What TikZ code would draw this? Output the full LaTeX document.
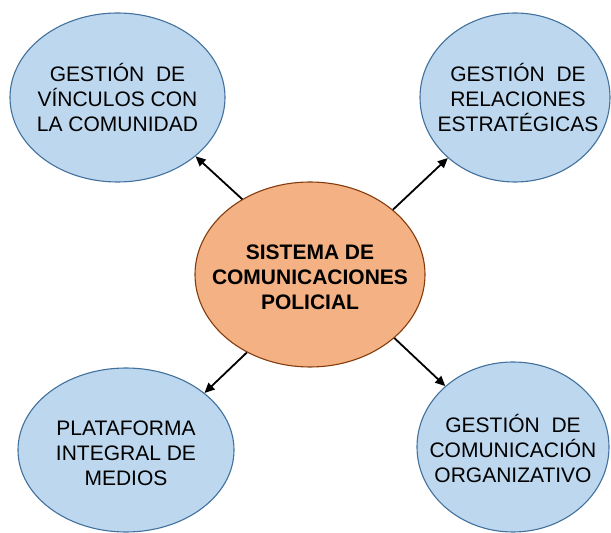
\documentclass[tikz,border=0pt]{standalone}
\usepackage{fontspec}
\setmainfont{Liberation Sans}
\usetikzlibrary{shapes.geometric,arrows.meta}
\definecolor{bluefill}{HTML}{BDD7EE}
\definecolor{blueline}{HTML}{41719C}
\definecolor{orangefill}{HTML}{F4B183}
\definecolor{orangeline}{HTML}{843C0C}
\tikzset{
  outer/.style={ellipse, draw=blueline, fill=bluefill, line width=1.1pt, inner sep=0pt},
  hub/.style={ellipse, draw=orangeline, fill=orangefill, line width=1.1pt, inner sep=0pt},
  outertext/.style={align=center, inner sep=0pt, font=\fontsize{21}{25}\selectfont, text=black},
  hubtext/.style={align=center, inner sep=0pt, font=\fontsize{21}{25}\selectfont\bfseries, text=black},
  link/.style={line width=1.8pt, draw=black, -{Triangle[length=10pt,width=9pt]}}
}
\begin{document}
\begin{tikzpicture}[x=1pt,y=1pt]
\useasboundingbox (0,0) rectangle (611,533);
\node[hub, minimum width=230pt, minimum height=185pt] (c) at (310,258.5) {};
\node[hubtext, yshift=-2.5pt] (ct) at (c.center) {SISTEMA DE\\COMUNICACIONES\\POLICIAL};
\node[outer, minimum width=215pt, minimum height=169pt] (tl) at (117.5,435.5) {};
\node[outertext] (tlt) at (tl.center) {GESTIÓN\ \ DE\\VÍNCULOS CON\\LA COMUNIDAD};
\node[outer, minimum width=190pt, minimum height=169pt] (tr) at (515,435.5) {};
\node[outertext, xshift=3pt] (trt) at (tr.center) {GESTIÓN\ \ DE\\RELACIONES\\ESTRATÉGICAS};
\node[outer, minimum width=216pt, minimum height=164pt] (bl) at (126,83) {};
\node[outertext, yshift=-3pt] (blt) at (bl.center) {PLATAFORMA\\INTEGRAL DE\\MEDIOS};
\node[outer, minimum width=192pt, minimum height=170pt] (br) at (513,86) {};
\node[outertext, yshift=-1pt] (brt) at (br.center) {GESTIÓN\ \ DE\\COMUNICACIÓN\\ORGANIZATIVO};
\draw[link] (c.132.4) -- (tl.-37.7);
\draw[link] (c.38) -- (tr.-138.3);
\draw[link] (c.231.3) -- (bl.36.2);
\draw[link] (c.-37.4) -- (br.138.1);
\end{tikzpicture}
\end{document}
